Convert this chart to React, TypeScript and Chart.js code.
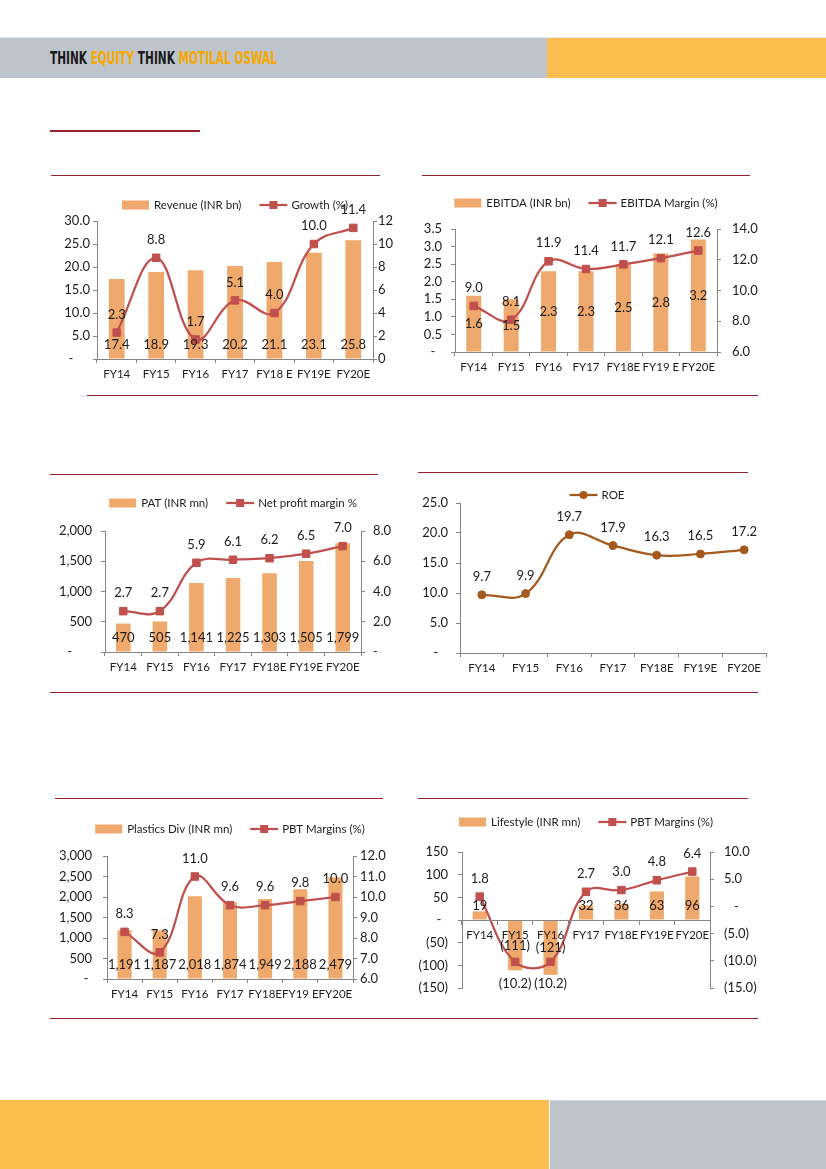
import React, { useEffect, useRef } from "react";
import { Chart, registerables } from "chart.js";

Chart.register(...registerables);

// ---------------- Data ----------------
const revenueYears = ["FY14", "FY15", "FY16", "FY17", "FY18 E", "FY19E", "FY20E"];
const revenue = [17.4, 18.9, 19.3, 20.2, 21.1, 23.1, 25.8];
const revenueGrowth = [2.3, 8.8, 1.7, 5.1, 4.0, 10.0, 11.4];

const ebitdaYears = ["FY14", "FY15", "FY16", "FY17", "FY18E", "FY19 E", "FY20E"];
const ebitda = [1.6, 1.5, 2.3, 2.3, 2.5, 2.8, 3.2];
const ebitdaMargin = [9.0, 8.1, 11.9, 11.4, 11.7, 12.1, 12.6];

const patYears = ["FY14", "FY15", "FY16", "FY17", "FY18E", "FY19E", "FY20E"];
const pat = [470, 505, 1141, 1225, 1303, 1505, 1799];
const netProfitMargin = [2.7, 2.7, 5.9, 6.1, 6.2, 6.5, 7.0];

const roeYears = ["FY14", "FY15", "FY16", "FY17", "FY18E", "FY19E", "FY20E"];
const roe = [9.7, 9.9, 19.7, 17.9, 16.3, 16.5, 17.2];

const plasticsYears = ["FY14", "FY15", "FY16", "FY17", "FY18E", "FY19 E", "FY20E"];
const plasticsDiv = [1191, 1187, 2018, 1874, 1949, 2188, 2479];
const plasticsPbtMargin = [8.3, 7.3, 11.0, 9.6, 9.6, 9.8, 10.0];

const lifestyleYears = ["FY14", "FY15", "FY16", "FY17", "FY18E", "FY19E", "FY20E"];
const lifestyle = [19, -111, -121, 32, 36, 63, 96];
const lifestylePbtMargin = [1.8, -10.2, -10.2, 2.7, 3.0, 4.8, 6.4];

// ---------------- Styles ----------------
const FONT = 'Lato, "Liberation Sans", Arial, sans-serif';
const AXIS = "#868686";
const TXT = "#1c1c1c";
const BAR = "#F0A96C";
const LINE = "#C0504D";
const ROE_C = "#A45A1E";
const RULE = "#96262B";
const TICK_SIZE = 13;
const XTICK_SIZE = 11.5;
const LABEL_SIZE = 13;
const LEGEND_SIZE = 11.5;

function fmtNum(v: number, d: number, zero = "-") {
  if (Math.abs(v) < 1e-9) return zero;
  const s = Math.abs(v).toLocaleString("en-US", { minimumFractionDigits: d, maximumFractionDigits: d });
  return v < 0 ? `(${s})` : s;
}

type AxisSpec = { min: number; max: number; step: number; dec: number; pad: number; zero: string };
type Spec = {
  id: string;
  box: { x: number; y: number; w: number; h: number };
  plot: { l: number; t: number; r: number; b: number };
  labels: string[];
  bar?: { label: string; data: number[]; dec: number; mode: "base" | "center" };
  line: { label: string; data: number[]; dec: number; color: string; marker: "rect" | "circle"; axis: "y" | "y1" };
  left: AxisSpec;
  right?: AxisSpec;
  legendY: number;
  legendCx?: number;
  xAtZero?: boolean;
};

function makeOverlay(s: Spec) {
  return {
    id: "overlay_" + s.id,
    afterDatasetsDraw(chart: any) {
      const ctx = chart.ctx as CanvasRenderingContext2D;
      ctx.save();
      ctx.font = `${LABEL_SIZE}px ${FONT}`;
      ctx.fillStyle = TXT;
      ctx.textAlign = "center";
      ctx.textBaseline = "middle";
      chart.data.datasets.forEach((ds: any, i: number) => {
        const meta = chart.getDatasetMeta(i);
        meta.data.forEach((el: any, j: number) => {
          const v = ds.data[j] as number;
          if (ds.type === "bar" && s.bar) {
            const p = el.getProps(["x", "y", "base"], true);
            let y: number;
            if (s.bar.mode === "center" || v < 0) y = (p.y + p.base) / 2;
            else y = p.base - 14;
            ctx.fillText(fmtNum(v, s.bar.dec), p.x, y);
          } else if (ds.type === "line") {
            const p = el.getProps(["x", "y"], true);
            const y = v < 0 ? p.y + 22 : p.y - 18;
            ctx.fillText(fmtNum(v, s.line.dec), p.x, y);
          }
        });
      });
      // legend
      const items: { kind: "bar" | "line"; label: string }[] = [];
      if (s.bar) items.push({ kind: "bar", label: s.bar.label });
      items.push({ kind: "line", label: s.line.label });
      ctx.font = `${LEGEND_SIZE}px ${FONT}`;
      const mw = 28, gapT = 4, gapI = 18;
      const widths = items.map((it) => mw + gapT + ctx.measureText(it.label).width);
      const total = widths.reduce((a, b) => a + b, 0) + gapI * (items.length - 1);
      const cx = (s.legendCx ?? (s.plot.l + s.plot.r) / 2) - s.box.x;
      const ly = s.legendY - s.box.y;
      let x = cx - total / 2;
      ctx.textAlign = "left";
      items.forEach((it, k) => {
        if (it.kind === "bar") {
          ctx.fillStyle = BAR;
          ctx.fillRect(x, ly - 4.5, mw - 1, 9);
        } else {
          ctx.strokeStyle = s.line.color;
          ctx.fillStyle = s.line.color;
          ctx.lineWidth = 2.25;
          ctx.beginPath();
          ctx.moveTo(x, ly);
          ctx.lineTo(x + mw, ly);
          ctx.stroke();
          if (s.line.marker === "rect") ctx.fillRect(x + mw / 2 - 4, ly - 4, 8, 8);
          else {
            ctx.beginPath();
            ctx.arc(x + mw / 2, ly, 4, 0, Math.PI * 2);
            ctx.fill();
          }
        }
        ctx.fillStyle = TXT;
        ctx.fillText(it.label, x + mw + gapT, ly + 0.5);
        x += widths[k] + gapI;
      });
      ctx.restore();
    },
  };
}

function yAxis(a: AxisSpec, position: "left" | "right", width: number) {
  return {
    type: "linear",
    position,
    min: a.min,
    max: a.max,
    grid: { display: true, drawOnChartArea: false, drawTicks: true, tickLength: 4, color: AXIS, lineWidth: 1 },
    border: { display: true, color: AXIS, width: 1 },
    ticks: {
      stepSize: a.step,
      padding: a.pad,
      autoSkip: false,
      color: TXT,
      font: { family: FONT, size: TICK_SIZE },
      callback: (v: any) => fmtNum(Number(v), a.dec, a.zero),
    },
    afterFit: (sc: any) => {
      sc.width = width;
    },
  };
}

function buildConfig(s: Spec): any {
  const { box, plot } = s;
  const leftW = plot.l - box.x;
  const rightW = box.x + box.w - plot.r;
  const bottomH = box.y + box.h - plot.b;
  const topPad = plot.t - box.y;
  const datasets: any[] = [
    {
      type: "line",
      label: s.line.label,
      data: s.line.data,
      yAxisID: s.line.axis,
      borderColor: s.line.color,
      backgroundColor: s.line.color,
      borderWidth: 2.25,
      tension: 0.4,
      pointStyle: s.line.marker,
      pointRadius: s.line.marker === "rect" ? 5.3 : 4,
      pointBorderWidth: 1,
      pointBorderColor: s.line.color,
      pointBackgroundColor: s.line.color,
      order: 0,
    },
  ];
  if (s.bar) {
    datasets.push({
      type: "bar",
      label: s.bar.label,
      data: s.bar.data,
      yAxisID: "y",
      backgroundColor: BAR,
      barPercentage: 0.4,
      categoryPercentage: 1,
      order: 1,
    });
  }
  const scales: any = {
    x: {
      type: "category",
      offset: true,
      position: s.xAtZero ? { y: 0 } : "bottom",
      grid: { display: true, drawOnChartArea: false, drawTicks: true, tickLength: 4, color: AXIS, offset: true, z: s.xAtZero ? 1 : -1 },
      border: { display: true, color: AXIS, width: 1, z: s.xAtZero ? 1 : 0 },
      ticks: { color: TXT, font: { family: FONT, size: XTICK_SIZE }, padding: 4, maxRotation: 0, autoSkip: false, z: s.xAtZero ? 1 : 0 },
      afterFit: (sc: any) => {
        if (!s.xAtZero) sc.height = bottomH;
      },
    },
    y: yAxis(s.left, "left", leftW),
  };
  if (s.right) scales.y1 = yAxis(s.right, "right", rightW);
  return {
    type: "bar",
    data: { labels: s.labels, datasets },
    options: {
      responsive: false,
      maintainAspectRatio: false,
      animation: false,
      events: [],
      layout: {
        padding: {
          top: topPad,
          left: 0,
          right: s.right ? 0 : rightW,
          bottom: s.xAtZero ? bottomH : 0,
        },
      },
      plugins: { legend: { display: false }, tooltip: { enabled: false } },
      scales,
    },
    plugins: [makeOverlay(s)],
  };
}

function ChartBox({ spec }: { spec: Spec }) {
  const ref = useRef<HTMLCanvasElement>(null);
  useEffect(() => {
    const c = new Chart(ref.current as HTMLCanvasElement, buildConfig(spec));
    return () => c.destroy();
  }, []);
  const { x, y, w, h } = spec.box;
  return (
    <div style={{ position: "absolute", left: x, top: y, width: w, height: h }}>
      <canvas ref={ref} width={w} height={h} style={{ display: "block", width: w, height: h }} />
    </div>
  );
}

const specs: Spec[] = [
  {
    id: "rev",
    box: { x: 40, y: 188, w: 362, h: 202 },
    plot: { l: 97, t: 221, r: 373, b: 359 },
    labels: revenueYears,
    bar: { label: "Revenue (INR bn)", data: revenue, dec: 1, mode: "base" },
    line: { label: "Growth (%)", data: revenueGrowth, dec: 1, color: LINE, marker: "rect", axis: "y1" },
    left: { min: 0, max: 30, step: 5, dec: 1, pad: 3, zero: "-     " },
    right: { min: 0, max: 12, step: 2, dec: 0, pad: 1, zero: "0" },
    legendY: 205,
  },
  {
    id: "ebitda",
    box: { x: 405, y: 188, w: 362, h: 200 },
    plot: { l: 455, t: 229, r: 717, b: 352 },
    labels: ebitdaYears,
    bar: { label: "EBITDA (INR bn)", data: ebitda, dec: 1, mode: "center" },
    line: { label: "EBITDA Margin (%)", data: ebitdaMargin, dec: 1, color: LINE, marker: "rect", axis: "y1" },
    left: { min: 0, max: 3.5, step: 0.5, dec: 1, pad: 9, zero: "-  " },
    right: { min: 6, max: 14, step: 2, dec: 1, pad: 11, zero: "-" },
    legendY: 203,
  },
  {
    id: "pat",
    box: { x: 40, y: 486, w: 362, h: 200 },
    plot: { l: 105, t: 531, r: 361, b: 652 },
    labels: patYears,
    bar: { label: "PAT (INR mn)", data: pat, dec: 0, mode: "base" },
    line: { label: "Net profit margin %", data: netProfitMargin, dec: 1, color: LINE, marker: "rect", axis: "y1" },
    left: { min: 0, max: 2000, step: 500, dec: 0, pad: 9, zero: "-      " },
    right: { min: 0, max: 8, step: 2, dec: 1, pad: 8, zero: "-" },
    legendY: 503,
  },
  {
    id: "roe",
    box: { x: 405, y: 478, w: 378, h: 207 },
    plot: { l: 460, t: 503, r: 766, b: 653 },
    labels: roeYears,
    line: { label: "ROE", data: roe, dec: 1, color: ROE_C, marker: "circle", axis: "y" },
    left: { min: 0, max: 25, step: 5, dec: 1, pad: 8, zero: "-   " },
    legendY: 495,
    legendCx: 597,
  },
  {
    id: "plastics",
    box: { x: 40, y: 810, w: 362, h: 202 },
    plot: { l: 107, t: 856, r: 353, b: 979 },
    labels: plasticsYears,
    bar: { label: "Plastics Div (INR mn)", data: plasticsDiv, dec: 0, mode: "base" },
    line: { label: "PBT Margins (%)", data: plasticsPbtMargin, dec: 1, color: LINE, marker: "rect", axis: "y1" },
    left: { min: 0, max: 3000, step: 500, dec: 0, pad: 11, zero: "- " },
    right: { min: 6, max: 12, step: 1, dec: 1, pad: 3, zero: "-" },
    legendY: 829,
  },
  {
    id: "life",
    box: { x: 405, y: 806, w: 365, h: 200 },
    plot: { l: 462, t: 852, r: 710, b: 988 },
    labels: lifestyleYears,
    bar: { label: "Lifestyle (INR mn)", data: lifestyle, dec: 0, mode: "base" },
    line: { label: "PBT Margins (%)", data: lifestylePbtMargin, dec: 1, color: LINE, marker: "rect", axis: "y1" },
    left: { min: -150, max: 150, step: 50, dec: 0, pad: 10, zero: "-  " },
    right: { min: -15, max: 10, step: 5, dec: 1, pad: 10, zero: "   -" },
    legendY: 822,
    xAtZero: true,
  },
];

function Rule({ x1, x2, y, h = 1 }: { x1: number; x2: number; y: number; h?: number }) {
  return <div style={{ position: "absolute", left: x1, top: y, width: x2 - x1, height: h, background: RULE }} />;
}

function Header() {
  const ref = useRef<HTMLDivElement>(null);
  useEffect(() => {
    const el = ref.current;
    if (!el) return;
    el.style.transform = "none";
    const w = el.getBoundingClientRect().width;
    if (w > 0) el.style.transform = `scaleX(${227 / w})`;
  }, []);
  const dark = "#1a1a1a";
  const orange = "#F6A800";
  return (
    <div
      ref={ref}
      style={{
        position: "absolute",
        left: 50,
        top: 49,
        display: "inline-block",
        whiteSpace: "nowrap",
        fontFamily: '"Liberation Sans Narrow", "DejaVu Sans Condensed", "Liberation Sans", sans-serif',
        fontWeight: 700,
        fontSize: 18,
        lineHeight: "18px",
        transformOrigin: "left top",
      }}
    >
      <span style={{ color: dark }}>THINK </span>
      <span style={{ color: orange }}>EQUITY </span>
      <span style={{ color: dark }}>THINK </span>
      <span style={{ color: orange }}>MOTILAL OSWAL</span>
    </div>
  );
}

export default function App() {
  return (
    <div style={{ position: "absolute", left: 0, top: 0, width: 826, height: 1169, overflow: "hidden", background: "#fff" }}>
      {/* header bands */}
      <div style={{ position: "absolute", left: 0, top: 37, width: 826, height: 1, background: "#E4E6E9" }} />
      <div style={{ position: "absolute", left: 0, top: 38, width: 547, height: 40, background: "#BEC4CB" }} />
      <div style={{ position: "absolute", left: 547, top: 38, width: 279, height: 40, background: "#FCBE4F" }} />
      <Header />
      <div style={{ position: "absolute", left: 50, top: 130, width: 150, height: 2, background: RULE }} />

      {/* section rules */}
      <Rule x1={51} x2={380} y={175} />
      <Rule x1={422} x2={750} y={175} />
      <Rule x1={87} x2={758} y={395} />
      <Rule x1={50} x2={378} y={474} />
      <Rule x1={418} x2={748} y={472} />
      <Rule x1={50} x2={758} y={692} />
      <Rule x1={55} x2={383} y={798} />
      <Rule x1={418} x2={748} y={798} />
      <Rule x1={50} x2={758} y={1018} />

      {specs.map((s) => (
        <ChartBox key={s.id} spec={s} />
      ))}

      {/* footer bands */}
      <div style={{ position: "absolute", left: 0, top: 1100, width: 549, height: 69, background: "#FCBE4F" }} />
      <div style={{ position: "absolute", left: 550, top: 1100, width: 276, height: 69, background: "#BEC4CB" }} />
      <div style={{ position: "absolute", left: 550, top: 1100, width: 276, height: 1, background: "#D5D9DE" }} />
    </div>
  );
}
